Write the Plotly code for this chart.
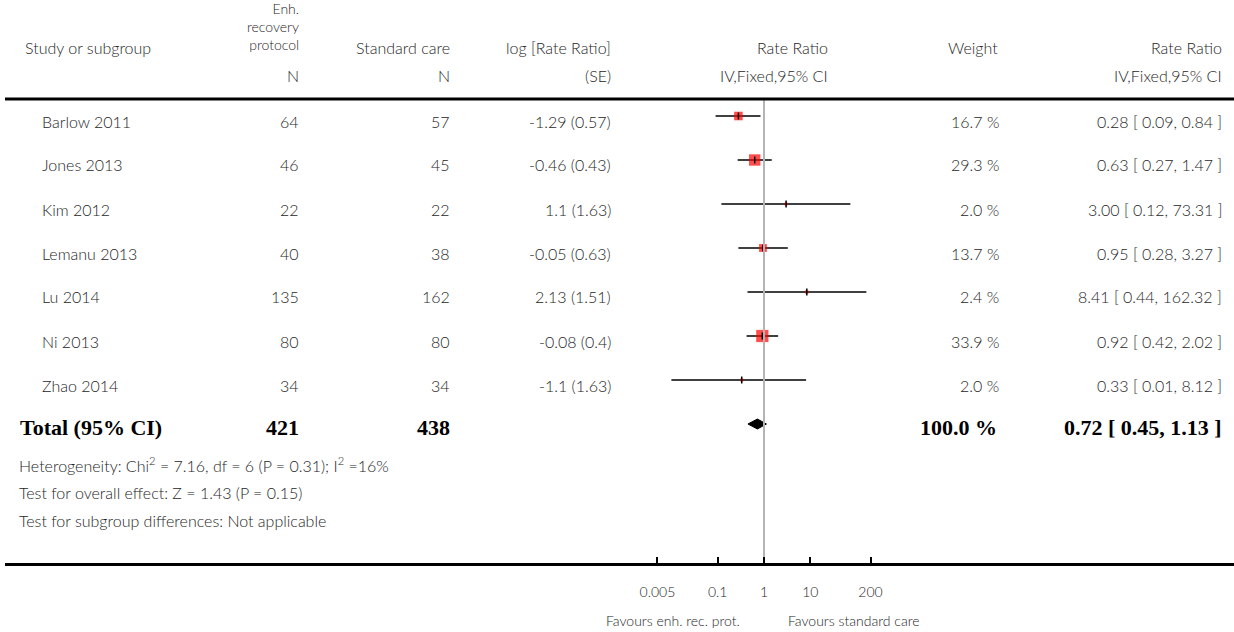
import plotly.graph_objects as go

# ---- study data -------------------------------------------------------------
studies = ["Barlow 2011", "Jones 2013", "Kim 2012", "Lemanu 2013",
           "Lu 2014", "Ni 2013", "Zhao 2014"]
n_erp = [64, 46, 22, 40, 135, 80, 34]
n_std = [57, 45, 22, 38, 162, 80, 34]
log_rr = [-1.29, -0.46, 1.1, -0.05, 2.13, -0.08, -1.1]
log_se = [0.57, 0.43, 1.63, 0.63, 1.51, 0.4, 1.63]
weight = [16.7, 29.3, 2.0, 13.7, 2.4, 33.9, 2.0]
rate_ratio = [0.28, 0.63, 3.00, 0.95, 8.41, 0.92, 0.33]
ci_low = [0.09, 0.27, 0.12, 0.28, 0.44, 0.42, 0.01]
ci_high = [0.84, 1.47, 73.31, 3.27, 162.32, 2.02, 8.12]

total_erp = 421
total_std = 438
total_weight = 100.0
total_rr = 0.72
total_low = 0.45
total_high = 1.13

tick_vals = [0.005, 0.1, 1, 10, 200]
tick_text = ["0.005", "0.1", "1", "10", "200"]

# ---- page geometry (pixels) --------------------------------------------------
W, H = 1234, 632
SANS = "Lato"
SERIF = "Liberation Serif"
TXT = "#262626"
FS = 16                # body text size
FW = 300               # light weight for body text
BOLD_FS = 22

X_ONE = 764.0          # pixel of rate ratio = 1
PX_DEC = 46.3          # pixels per decade
X_LEFT = 5.0
AXIS_Y = 563.0         # pixel row of the forest axis line
ROW0, ROW_STEP = 116.0, 44.0
rows_y = [ROW0 + ROW_STEP * i for i in range(len(studies))]
total_y = ROW0 + ROW_STEP * len(studies)

x_range = [(X_LEFT - X_ONE) / PX_DEC, (W - X_ONE) / PX_DEC]


def px(x):
    return x / W


def py(y):
    return (H - y) / H


annotations = []


def label(text, x, y, anchor="left", size=FS, family=SANS, color=TXT,
          weight=FW, yanchor="middle"):
    annotations.append(dict(
        text=text, x=px(x), y=py(y), xref="paper", yref="paper",
        xanchor=anchor, yanchor=yanchor, showarrow=False,
        align="right" if anchor == "right" else "left",
        font=dict(family=family, size=size, color=color, weight=weight),
        borderpad=0,
    ))


fig = go.Figure()

# confidence interval whiskers
ci_x, ci_y = [], []
for lo, hi, y in zip(ci_low, ci_high, rows_y):
    ci_x += [lo, hi, None]
    ci_y += [y, y, None]
fig.add_trace(go.Scatter(x=ci_x, y=ci_y, mode="lines",
                         line=dict(color="black", width=1.5),
                         hoverinfo="skip"))

# weight boxes, area proportional to study weight
fig.add_trace(go.Scatter(
    x=rate_ratio, y=rows_y, mode="markers",
    marker=dict(symbol="square", color="#ff0000",
                size=[2.1 * w ** 0.5 for w in weight],
                line=dict(width=0)),
    hoverinfo="skip"))

# point estimate ticks
fig.add_trace(go.Scatter(
    x=rate_ratio, y=rows_y, mode="markers",
    marker=dict(symbol="line-ns", size=5, color="black",
                line=dict(color="black", width=1.5)),
    hoverinfo="skip"))

# pooled estimate diamond
half_h = 5
fig.add_trace(go.Scatter(
    x=[total_low, total_rr, total_high, total_rr, total_low],
    y=[total_y, total_y - half_h, total_y, total_y + half_h, total_y],
    mode="lines", fill="toself", fillcolor="black",
    line=dict(color="black", width=1), hoverinfo="skip"))

# line of no effect
fig.add_trace(go.Scatter(x=[1, 1], y=[ROW0 - 16, AXIS_Y], mode="lines",
                         line=dict(color="#b4b4b4", width=2),
                         hoverinfo="skip"))

# ---- header ------------------------------------------------------------------
HDR = 48
label("Study or subgroup", 24, HDR)
label("Enh.<br>recovery<br>protocol", 300, 26, "right", size=14)
label("Standard care", 451, HDR, "right")
label("log [Rate Ratio]", 612, HDR, "right")
label("Rate Ratio", 829, HDR, "right")
label("Weight", 999, HDR, "right")
label("Rate Ratio", 1223, HDR, "right")
label("N", 300, 76, "right")
label("N", 451, 76, "right")
label("(SE)", 612, 76, "right")
label("IV,Fixed,95% CI", 829, 76, "right")
label("IV,Fixed,95% CI", 1223, 76, "right")

# ---- study rows --------------------------------------------------------------
for i, name in enumerate(studies):
    y = rows_y[i] + 5
    label(name, 41, y)
    label(str(n_erp[i]), 300, y, "right")
    label(str(n_std[i]), 451, y, "right")
    label(f"{log_rr[i]:g} ({log_se[i]:g})", 612, y, "right")
    label(f"{weight[i]:.1f} %", 1000, y, "right")
    label(f"{rate_ratio[i]:.2f} [ {ci_low[i]:.2f}, {ci_high[i]:.2f} ]",
          1223, y, "right")

# ---- total row ---------------------------------------------------------------
ty = total_y + 3
label("<b>Total (95% CI)</b>", 19, ty, size=BOLD_FS, family=SERIF,
      color="black", weight=700)
label(f"<b>{total_erp}</b>", 300, ty, "right", BOLD_FS, SERIF, "black", 700)
label(f"<b>{total_std}</b>", 451, ty, "right", BOLD_FS, SERIF, "black", 700)
label(f"<b>{total_weight:.1f} %</b>", 998, ty, "right", BOLD_FS, SERIF,
      "black", 700)
label(f"<b>{total_rr:.2f} [ {total_low:.2f}, {total_high:.2f} ]</b>",
      1223, ty, "right", BOLD_FS, SERIF, "black", 700)

label("Heterogeneity: Chi<sup>2</sup> = 7.16, df = 6 (P = 0.31); "
      "I<sup>2</sup> =16%", 18, 465)
label("Test for overall effect: Z = 1.43 (P = 0.15)", 18, 492)
label("Test for subgroup differences: Not applicable", 18, 520)

# ---- footer ------------------------------------------------------------------
label("Favours enh. rec. prot.", 741, 620, "right", 14)
label("Favours standard care", 787, 620, "left", 14)

# rule under the header
shapes = [dict(type="line", xref="paper", yref="paper",
               x0=px(5), x1=1, y0=py(99), y1=py(99),
               line=dict(color="black", width=3))]

fig.update_layout(
    width=W, height=H,
    margin=dict(l=0, r=0, t=0, b=0),
    paper_bgcolor="white", plot_bgcolor="white",
    showlegend=False,
    annotations=annotations,
    shapes=shapes,
    xaxis=dict(type="log", range=x_range, domain=[px(X_LEFT), 1],
               showgrid=False, zeroline=False,
               showline=True, linecolor="black", linewidth=3,
               ticks="inside", ticklen=6, tickwidth=2, tickcolor="black",
               tickvals=tick_vals, ticktext=tick_text,
               ticklabelstandoff=14,
               tickfont=dict(family=SANS, size=14, color=TXT, weight=FW),
               fixedrange=True),
    yaxis=dict(range=[AXIS_Y, 0], domain=[py(AXIS_Y), 1], visible=False,
               fixedrange=True),
)

fig.write_html("out.html")
